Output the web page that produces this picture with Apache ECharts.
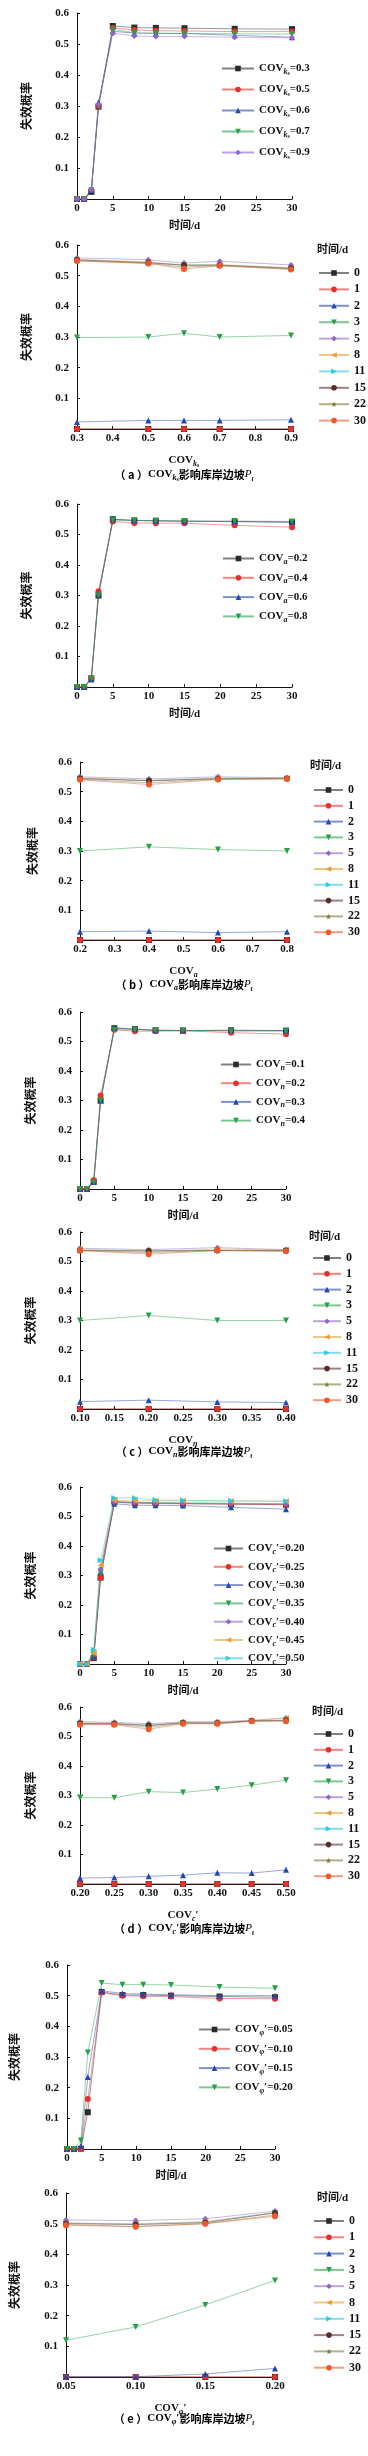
<!DOCTYPE html>
<html><head><meta charset="utf-8">
<script src="https://cdn.jsdelivr.net/npm/echarts@6/dist/echarts.min.js"></script>
<style>html,body{margin:0;padding:0;background:#fff}#c{width:368px;height:2456px}</style>
</head><body><div id="c"></div>
<script>
// ---------- data ----------
const times = [0, 1, 2, 3, 5, 8, 11, 15, 22, 30];
const timeLabels = ['0', '1', '2', '3', '5', '8', '11', '15', '22', '30'];
const yTicks = [0.1, 0.2, 0.3, 0.4, 0.5, 0.6];

// (a) COV_ks
const aCov = [0.3, 0.5, 0.6, 0.7, 0.9];
const aPf = [
  [0, 0, 0.023, 0.298, 0.558, 0.553, 0.552, 0.551, 0.549, 0.548],
  [0, 0, 0.028, 0.300, 0.552, 0.545, 0.543, 0.542, 0.540, 0.540],
  [0, 0, 0.028, 0.312, 0.541, 0.535, 0.534, 0.534, 0.528, 0.522],
  [0, 0, 0.028, 0.300, 0.547, 0.536, 0.535, 0.534, 0.533, 0.532],
  [0, 0, 0.030, 0.305, 0.535, 0.526, 0.524, 0.524, 0.522, 0.520]
];
// (b) COV_a
const bCov = [0.2, 0.4, 0.6, 0.8];
const bPf = [
  [0, 0, 0.028, 0.300, 0.550, 0.546, 0.545, 0.544, 0.542, 0.540],
  [0, 0, 0.030, 0.314, 0.543, 0.538, 0.537, 0.537, 0.530, 0.524],
  [0, 0, 0.025, 0.305, 0.550, 0.546, 0.545, 0.543, 0.543, 0.541],
  [0, 0, 0.028, 0.300, 0.547, 0.546, 0.545, 0.544, 0.544, 0.543]
];
// (c) COV_n
const cCov = [0.1, 0.2, 0.3, 0.4];
const cPf = [
  [0, 0, 0.025, 0.300, 0.545, 0.542, 0.538, 0.537, 0.538, 0.537],
  [0, 0, 0.030, 0.317, 0.540, 0.535, 0.535, 0.536, 0.530, 0.525],
  [0, 0, 0.024, 0.300, 0.547, 0.542, 0.538, 0.537, 0.538, 0.537],
  [0, 0, 0.022, 0.300, 0.540, 0.540, 0.538, 0.537, 0.535, 0.535]
];
// (d) COV_c'
const dCov = [0.20, 0.25, 0.30, 0.35, 0.40, 0.45, 0.50];
const dPf = [
  [0, 0, 0.020, 0.293, 0.550, 0.546, 0.545, 0.544, 0.542, 0.540],
  [0, 0, 0.022, 0.292, 0.548, 0.545, 0.544, 0.543, 0.542, 0.540],
  [0, 0, 0.026, 0.313, 0.543, 0.538, 0.538, 0.537, 0.531, 0.525],
  [0, 0, 0.030, 0.310, 0.550, 0.548, 0.547, 0.546, 0.545, 0.543],
  [0, 0, 0.038, 0.322, 0.550, 0.548, 0.546, 0.545, 0.544, 0.543],
  [0, 0, 0.037, 0.335, 0.555, 0.553, 0.553, 0.553, 0.552, 0.552],
  [0, 0, 0.048, 0.352, 0.563, 0.563, 0.556, 0.555, 0.553, 0.552]
];
// (e) COV_phi'
const eCov = [0.05, 0.10, 0.15, 0.20];
const ePf = [
  [0, 0, 0.001, 0.120, 0.512, 0.502, 0.502, 0.500, 0.497, 0.495],
  [0, 0, 0.001, 0.163, 0.510, 0.500, 0.498, 0.497, 0.491, 0.490],
  [0, 0, 0.010, 0.235, 0.516, 0.507, 0.505, 0.503, 0.500, 0.500],
  [0, 0, 0.028, 0.315, 0.541, 0.536, 0.536, 0.535, 0.528, 0.524]
];

// ---------- styles ----------
const FONT = "'Liberation Serif','Noto Sans CJK SC',serif";
const COLORS = ['#2b2b2b', '#e8302a', '#2447b0', '#27a048', '#9166c8', '#e8a030', '#30c8dc', '#5b2c2c', '#7b7d3a', '#f0582a'];
const SYMS = ['rect', 'circle', 'triangle', 'path://M0,0L10,0L5,9Z', 'diamond',
  'path://M0,5L9,0L9,10Z', 'path://M0,0L9,5L0,10Z', 'circle',
  'path://M5,0L6.2,3.6L10,3.6L6.9,5.9L8.1,9.5L5,7.3L1.9,9.5L3.1,5.9L0,3.6L3.8,3.6Z', 'circle'];

const rich = {
  m: {fontFamily: FONT, fontWeight: 'bold', fontSize: 11, lineHeight: 15, color: '#111'},
  s: {fontFamily: FONT, fontWeight: 'bold', fontStyle: 'italic', fontSize: 8, lineHeight: 9, verticalAlign: 'bottom', color: '#111'},
  ss: {fontFamily: FONT, fontWeight: 'bold', fontSize: 6, lineHeight: 6, verticalAlign: 'bottom', color: '#111'},
  c: {fontFamily: "'Noto Sans CJK SC',sans-serif", fontWeight: 'bold', fontSize: 11, lineHeight: 15, color: '#111'},
  i: {fontFamily: FONT, fontStyle: 'italic', fontSize: 11, lineHeight: 15, color: '#111'}
};

const covSub = {
  a: '{m|COV}{s|k}{ss|s}',
  b: '{m|COV}{s|a}',
  c: '{m|COV}{s|n}',
  d: '{m|COV}{s|c}{m|′}',
  e: '{m|COV}{s|φ}{m|′}'
};
const covDec = {a: 1, b: 1, c: 2, d: 2, e: 2};
const legDec = {a: 1, b: 1, c: 1, d: 2, e: 2};

const panels = [
  {k: 'a', cov: aCov, pf: aPf, top: [77, 215, 13, 186, 216, 56, 21, 32], bot: [77, 214, 245, 184, 313, 261, 16.4, 30, 317, 252], xr: [0.3, 0.9, 0.1], cap: 477, yn: 45},
  {k: 'b', cov: bCov, pf: bPf, top: [77, 215, 504, 183, 217, 546, 19.3, 31], bot: [80, 207, 762, 178, 308, 778, 15.8, 29, 310, 768], xr: [0.2, 0.8, 0.1], cap: 987, yn: 45},
  {k: 'c', cov: cCov, pf: cPf, top: [80, 206, 1012, 177, 215, 1052, 18.7, 30], bot: [80, 206, 1232, 177, 307, 1246, 15.8, 28, 309, 1239], xr: [0.1, 0.4, 0.05], cap: 1454, yn: 47},
  {k: 'd', cov: dCov, pf: dPf, top: [80, 206, 1487, 177, 208, 1536, 18.3, 29], bot: [80, 206, 1707, 177, 308, 1722, 15.8, 29, 312, 1714], xr: [0.2, 0.5, 0.05], cap: 1931, yn: 47},
  {k: 'e', cov: eCov, pf: ePf, top: [60, 215, 1965, 184, 193, 2017, 19.3, 31], bot: [61, 214, 2193, 184, 308, 2209, 16.3, 30, 317, 2200], xr: [0.05, 0.2, 0.05], cap: 2421, yn: 30}
];

const grid = [], xAxis = [], yAxis = [], series = [], legend = [], graphic = [];
const nameMap = {};

function axisCommon() {
  return {
    axisLine: {show: true, onZero: false, lineStyle: {color: '#111', width: 1}},
    axisTick: {show: true, inside: true, length: 3, lineStyle: {color: '#111'}},
    splitLine: {show: false},
    axisLabel: {fontFamily: FONT, fontWeight: 'bold', fontSize: 11, color: '#111'}
  };
}

function addYAxis(gi, p) {
  const ax = axisCommon();
  ax.axisLabel.margin = 8;
  ax.axisLabel.formatter = v => (v === 0 ? '' : v.toFixed(1));
  yAxis.push(Object.assign(ax, {
    type: 'value', gridIndex: gi, min: 0, max: 0.6, interval: 0.1,
    name: '失效概率', nameLocation: 'middle', nameGap: p.yn,
    nameTextStyle: {fontFamily: "'Noto Sans CJK SC',sans-serif", fontWeight: 'bold', fontSize: 12, color: '#111'}
  }));
}

panels.forEach((p, pi) => {
  // ---- top panel: Pf vs time ----
  let gi = grid.length;
  let t = p.top;
  grid.push({left: t[0], width: t[1], top: t[2], height: t[3]});
  let ax = axisCommon();
  ax.axisLabel.margin = 4;
  xAxis.push(Object.assign(ax, {
    type: 'value', gridIndex: gi, min: 0, max: 30, interval: 5,
    name: '时间/d', nameLocation: 'middle', nameGap: 22,
    nameTextStyle: {fontFamily: FONT, fontWeight: 'bold', fontSize: 11, color: '#111'}
  }));
  addYAxis(gi, {yn: p.yn - (t[0] - 77)});
  const topNames = [];
  p.cov.forEach((c, i) => {
    const nm = p.k + 'T' + i;
    nameMap[nm] = covSub[p.k] + '{m|=' + c.toFixed(legDec[p.k]) + '}';
    topNames.push(nm);
    series.push({
      type: 'line', name: nm, xAxisIndex: gi, yAxisIndex: gi,
      data: times.map((tt, j) => [tt, p.pf[i][j]]),
      symbol: SYMS[i], symbolSize: 6, showSymbol: true,
      lineStyle: {width: 0.8, color: COLORS[i], opacity: 0.6},
      itemStyle: {color: COLORS[i]}, animation: false
    });
  });
  legend.push({
    data: topNames, orient: 'vertical', left: t[4], top: t[5],
    itemWidth: t[7], itemHeight: 7, itemGap: t[6] - 15,
    formatter: n => nameMap[n], textStyle: {rich: rich, fontSize: 11, lineHeight: 15}
  });

  // ---- bottom panel: Pf vs COV ----
  gi = grid.length;
  t = p.bot;
  grid.push({left: t[0], width: t[1], top: t[2], height: t[3]});
  ax = axisCommon();
  ax.axisLabel.margin = 4;
  ax.axisLabel.formatter = v => v.toFixed(covDec[p.k]);
  xAxis.push(Object.assign(ax, {
    type: 'value', gridIndex: gi, min: p.xr[0], max: p.xr[1], interval: p.xr[2],
    name: covSub[p.k], nameLocation: 'middle', nameGap: 24,
    nameTextStyle: {rich: rich}
  }));
  addYAxis(gi, {yn: p.yn - (t[0] - 77)});
  const botNames = [];
  times.forEach((tt, j) => {
    const nm = p.k + 'B' + j;
    nameMap[nm] = timeLabels[j];
    botNames.push(nm);
    series.push({
      type: 'line', name: nm, xAxisIndex: gi, yAxisIndex: gi,
      data: p.cov.map((c, i) => [c, p.pf[i][j]]),
      symbol: SYMS[j], symbolSize: 6, showSymbol: true,
      lineStyle: {width: 0.8, color: COLORS[j], opacity: 0.6},
      itemStyle: {color: COLORS[j]}, animation: false
    });
  });
  legend.push({
    data: botNames, orient: 'vertical', left: t[4], top: t[5],
    itemWidth: t[7], itemHeight: 7, itemGap: t[6] - 14,
    formatter: n => nameMap[n],
    textStyle: {fontFamily: FONT, fontWeight: 'bold', fontSize: 12, color: '#111', lineHeight: 14}
  });
  graphic.push({
    type: 'text', left: t[8], top: t[9] - 7,
    style: {text: '时间/d', font: "bold 11px " + FONT, fill: '#111'}
  });

  // ---- caption ----
  graphic.push({
    type: 'text', left: 'center', top: p.cap - 8,
    style: {
      text: '{c|（ ' + p.k + ' ）}' + covSub[p.k] + '{c|影响库岸边坡}{i|P}{ss|f}',
      rich: rich
    }
  });
});

const chart = echarts.init(document.getElementById('c'), null, {renderer: 'canvas'});
chart.setOption({
  animation: false,
  backgroundColor: '#fff',
  grid, xAxis, yAxis, series, legend, graphic
});
</script></body></html>
